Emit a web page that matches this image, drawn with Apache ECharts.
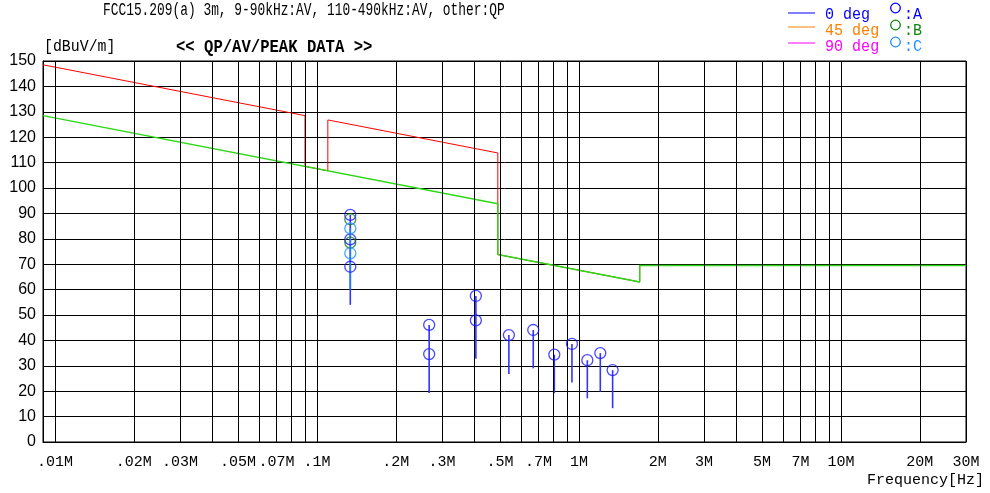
<!DOCTYPE html>
<html><head><meta charset="utf-8">
<script src="https://cdn.jsdelivr.net/npm/echarts@6/dist/echarts.min.js"></script>
<style>html,body{margin:0;padding:0;background:#fff}#c{width:990px;height:493px}</style>
</head><body><div id="c"></div>
<script>
// ---- texts ----
const titleText = 'FCC15.209(a) 3m, 9-90kHz:AV, 110-490kHz:AV, other:QP';
const yUnitText = '[dBuV/m]';
const dataTitleText = '<< QP/AV/PEAK DATA >>';
const xNameText = 'Frequency[Hz]';
const legendDegTexts = ['0 deg', '45 deg', '90 deg'];
const legendMarkTexts = [':A', ':B', ':C'];

// ---- axis ticks ----
const xTickValues = [0.01, 0.02, 0.03, 0.05, 0.07, 0.1, 0.2, 0.3, 0.5, 0.7, 1, 2, 3, 5, 7, 10, 20, 30];
const xTickLabels = ['.01M', '.02M', '.03M', '.05M', '.07M', '.1M', '.2M', '.3M', '.5M', '.7M', '1M', '2M', '3M', '5M', '7M', '10M', '20M', '30M'];
const xGridValues = [0.01, 0.02, 0.03, 0.04, 0.05, 0.06, 0.07, 0.08, 0.09,
                     0.1, 0.2, 0.3, 0.4, 0.5, 0.6, 0.7, 0.8, 0.9,
                     1, 2, 3, 4, 5, 6, 7, 8, 9, 10, 20, 30];

// ---- limit lines (MHz, dBuV/m) ----
const peakLimitFreq  = [0.009, 0.09, 0.09, 0.11, 0.11, 0.49, 0.49, 1.705, 1.705, 30];
const peakLimitLevel = [148.5, 128.5, 108.5, 106.8, 126.8, 113.8, 73.8, 63.0, 69.5, 69.5];
const avLimitFreq    = [0.009, 0.49, 0.49, 1.705, 1.705, 30];
const avLimitLevel   = [128.5, 93.8, 73.8, 63.0, 69.5, 69.5];

// ---- measured points ----
const aFreq  = [0.134, 0.134, 0.134, 0.268, 0.268, 0.404, 0.404, 0.540, 0.669, 0.805, 0.940, 1.076, 1.206, 1.344];
const aLevel = [89.4, 79.8, 69.0, 46.1, 34.6, 57.5, 47.9, 42.1, 44.1, 34.4, 38.6, 32.2, 35.0, 28.3];
const bFreq  = [0.134, 0.134];
const bLevel = [87.7, 78.5];
const cFreq  = [0.134, 0.134];
const cLevel = [84.1, 74.3];

// ---- peak stems ----
const stemAFreq   = [0.134, 0.268, 0.404, 0.540, 0.669, 0.805, 0.940, 1.076, 1.206, 1.344];
const stemATop    = [89.4, 46.1, 57.5, 42.1, 44.1, 34.4, 38.6, 32.2, 35.0, 28.3];
const stemABottom = [54.0, 19.3, 32.8, 26.8, 29.0, 19.2, 23.4, 17.2, 19.8, 13.3];
const stemCFreq   = [0.134];
const stemCTop    = [84.1];
const stemCBottom = [60.0];

const zip = (xs, ys) => xs.map((x, i) => [x, ys[i]]);
const zip3 = (xs, a, b) => xs.map((x, i) => [x, a[i], b[i]]);

function stemSeries(data, color) {
  return {
    type: 'custom', silent: true, z: 4,
    data: data,
    encode: { x: 0, y: [1, 2] },
    renderItem: function (params, api) {
      const p1 = api.coord([api.value(0), api.value(1)]);
      const p2 = api.coord([api.value(0), api.value(2)]);
      return { type: 'line', shape: { x1: p1[0], y1: p1[1], x2: p2[0], y2: p2[1] },
               style: { stroke: color, lineWidth: 1.6 } };
    }
  };
}
function circleSeries(data, color) {
  return {
    type: 'scatter', silent: true, z: 5,
    symbol: 'circle', symbolSize: 11,
    itemStyle: { color: 'rgba(0,0,0,0)', borderColor: color, borderWidth: 1.3 },
    data: data
  };
}

const chart = echarts.init(document.getElementById('c'), null, { renderer: 'canvas' });
const MONO = '"Liberation Mono", "DejaVu Sans Mono", monospace';

const legendY = [13, 27, 43];
const legendTextY = [15, 31, 47];
const legendCircleY = [8, 25, 42];
const legendDegColors = ['#0000ff', '#ff8000', '#ff00ff'];
const legendMarkColors = ['#0000ff', '#118811', '#1e90ff'];

const graphics = [
  { type: 'text', x: 103, y: 10, scaleX: 0.715, silent: true,
    style: { text: titleText, font: '18px ' + MONO, fill: '#000', align: 'left', verticalAlign: 'middle' } },
  { type: 'text', x: 44, y: 47, scaleX: 0.93, silent: true,
    style: { text: yUnitText, font: '16px ' + MONO, fill: '#000', align: 'left', verticalAlign: 'middle' } },
  { type: 'text', x: 176, y: 47, scaleX: 0.82, silent: true,
    style: { text: dataTitleText, font: 'bold 19px ' + MONO, fill: '#000', align: 'left', verticalAlign: 'middle' } },
  { type: 'text', x: 984, y: 480, silent: true,
    style: { text: xNameText, font: '15px ' + MONO, fill: '#000', align: 'right', verticalAlign: 'middle' } }
];
for (let i = 0; i < 3; i++) {
  graphics.push({ type: 'line', silent: true, shape: { x1: 788, y1: legendY[i], x2: 815, y2: legendY[i] },
                  style: { stroke: legendDegColors[i], lineWidth: 1 } });
  graphics.push({ type: 'text', x: 825, y: legendTextY[i], silent: true,
                  style: { text: legendDegTexts[i], font: '16px ' + MONO, fill: legendDegColors[i], align: 'left', verticalAlign: 'middle' }, scaleX: 0.94 });
  graphics.push({ type: 'circle', silent: true, shape: { cx: 895.5, cy: legendCircleY[i], r: 4.8 },
                  style: { stroke: legendMarkColors[i], fill: 'none', lineWidth: 1.3 } });
  graphics.push({ type: 'text', x: 904, y: legendTextY[i], silent: true,
                  style: { text: legendMarkTexts[i], font: '16px ' + MONO, fill: legendMarkColors[i], align: 'left', verticalAlign: 'middle' }, scaleX: 0.94 });
}

function labelFor(v) {
  for (let i = 0; i < xTickValues.length; i++) {
    if (Math.abs(v - xTickValues[i]) / xTickValues[i] < 1e-3) return xTickLabels[i];
  }
  return '';
}

const option = {
  animation: false,
  backgroundColor: '#fff',
  grid: { left: 43, right: 24, top: 61, bottom: 51, show: true, borderColor: '#000', borderWidth: 1, backgroundColor: 'transparent' },
  xAxis: {
    type: 'log', logBase: 10, min: 0.009, max: 30,
    axisLine: { show: true, lineStyle: { color: '#000', width: 1 } },
    axisTick: { show: false, customValues: xTickValues },
    splitLine: { show: false },
    axisLabel: { customValues: xTickValues, formatter: labelFor, color: '#000', fontFamily: MONO, fontSize: 15, margin: 13, showMinLabel: true, showMaxLabel: true, hideOverlap: false }
  },
  yAxis: {
    type: 'value', min: 0, max: 150, interval: 10,
    axisLine: { show: true, lineStyle: { color: '#000', width: 1 } },
    axisTick: { show: false },
    splitLine: { show: true, lineStyle: { color: '#000', width: 1 } },
    axisLabel: { color: '#000', fontFamily: '"Liberation Sans", Arial, sans-serif', fontSize: 16, margin: 7 }
  },
  graphic: graphics,
  series: [
    { type: 'line', silent: true, z: 1, data: [[1, -10]], showSymbol: false, lineStyle: { width: 0 },
      markLine: { silent: true, symbol: ['none', 'none'], animation: false,
                  lineStyle: { color: '#000', width: 1, type: 'solid' }, label: { show: false },
                  data: xGridValues.map(v => ({ xAxis: v })) } },
    { type: 'line', silent: true, z: 2, showSymbol: false, data: zip(peakLimitFreq, peakLimitLevel),
      lineStyle: { color: '#ff0000', width: 1 } },
    { type: 'line', silent: true, z: 3, showSymbol: false, data: zip(avLimitFreq, avLimitLevel),
      lineStyle: { color: '#2ad814', width: 1.4 } },
    stemSeries(zip3(stemAFreq, stemATop, stemABottom), '#3333ff'),
    stemSeries(zip3(stemCFreq, stemCTop, stemCBottom), '#1e7cff'),
    circleSeries(zip(aFreq, aLevel), '#1a1aff'),
    circleSeries(zip(bFreq, bLevel), '#127a2a'),
    circleSeries(zip(cFreq, cLevel), '#1e90ff')
  ]
};
chart.setOption(option);
</script>
</body></html>
